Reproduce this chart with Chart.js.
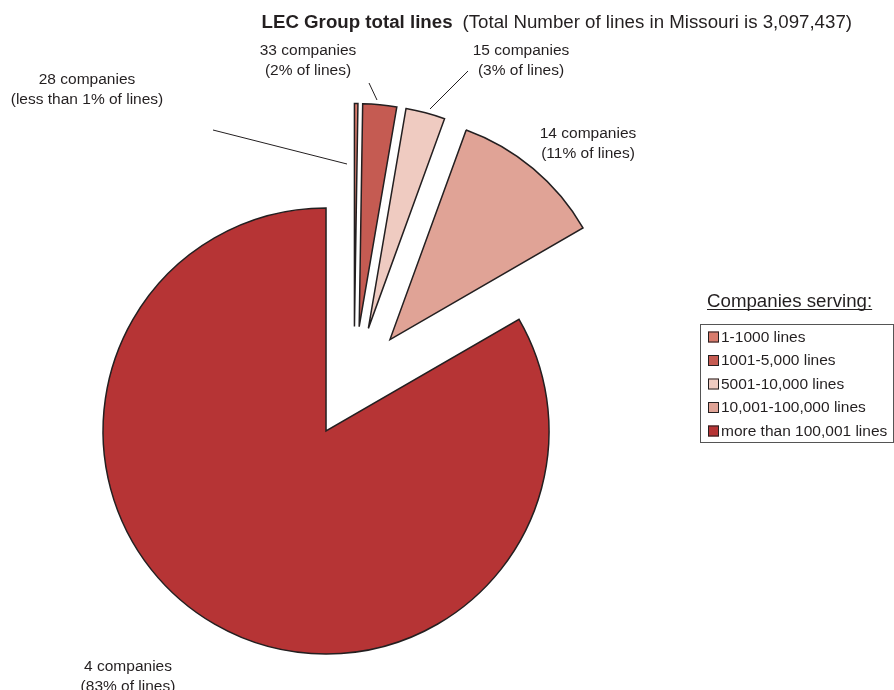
<!DOCTYPE html>
<html>
<head>
<meta charset="utf-8">
<title>LEC Group total lines</title>
<script src="https://cdn.jsdelivr.net/npm/chart.js@4/dist/chart.umd.min.js"></script>
<style>
  html, body { margin: 0; padding: 0; background: #fff; }
  #chart { display: block; }
</style>
</head>
<body>
<canvas id="chart" width="894" height="690"></canvas>
<script>
var groups = ['1-1000 lines', '1001-5,000 lines', '5001-10,000 lines', '10,001-100,000 lines', 'more than 100,001 lines'];
var companies = [28, 33, 15, 14, 4];
var shareOfLines = [0.25, 2.45, 2.85, 11.1, 83.35];
var sliceColors = ['#d97b6c', '#c55b52', '#efcbc1', '#e0a396', '#b63435'];
var totalLines = '3,097,437';

var INK = '#231f20';
var FONT = '"Liberation Sans", Arial, Helvetica, sans-serif';
var EXPLODE = 56;

// where each slice label sits (text centre) and its leader line, if any
var labelSpots = [
    {x: 87, y: 80, leader: [213, 130, 347, 164]},
    {x: 308, y: 51, leader: [369, 83, 377, 100]},
    {x: 521, y: 51, leader: [468, 71, 430, 109]},
    {x: 588, y: 134},
    {x: 128, y: 667}
];

function shareText(p) {
    return p < 1 ? 'less than 1%' : Math.round(p) + '%';
}

// pull every slice out along its own mid angle
var explodePlugin = {
    id: 'explode',
    beforeDatasetDraw: function (chart, args) {
        var ctx = chart.ctx;
        args.meta.data.forEach(function (arc) {
            var mid = (arc.startAngle + arc.endAngle) / 2;
            ctx.save();
            ctx.translate(Math.cos(mid) * EXPLODE, Math.sin(mid) * EXPLODE);
            arc.draw(ctx);
            ctx.restore();
        });
        return false;
    }
};

var textPlugin = {
    id: 'lecText',
    afterDraw: function (chart) {
        var ctx = chart.ctx;
        ctx.save();
        ctx.fillStyle = INK;
        ctx.strokeStyle = INK;

        // title: bold part then plain part
        ctx.textBaseline = 'alphabetic';
        ctx.textAlign = 'left';
        ctx.font = 'bold 18.7px ' + FONT;
        var bold = 'LEC Group total lines';
        ctx.fillText(bold, 261.5, 28.3);
        var w = ctx.measureText(bold).width;
        ctx.font = '18.7px ' + FONT;
        ctx.fillText('(Total Number of lines in Missouri is ' + totalLines + ')', 261.5 + w + 10, 28.3);

        // slice labels
        ctx.font = '15.5px ' + FONT;
        ctx.textAlign = 'center';
        ctx.textBaseline = 'middle';
        ctx.lineWidth = 1;
        labelSpots.forEach(function (s, i) {
            ctx.fillText(companies[i] + ' companies', s.x, s.y);
            ctx.fillText('(' + shareText(shareOfLines[i]) + ' of lines)', s.x, s.y + 19.5);
            if (s.leader) {
                ctx.beginPath();
                ctx.moveTo(s.leader[0], s.leader[1]);
                ctx.lineTo(s.leader[2], s.leader[3]);
                ctx.stroke();
            }
        });

        // legend
        ctx.textAlign = 'left';
        ctx.textBaseline = 'alphabetic';
        ctx.font = '18.7px ' + FONT;
        var head = 'Companies serving:';
        ctx.fillText(head, 707, 307);
        var hw = ctx.measureText(head).width;
        ctx.beginPath();
        ctx.moveTo(707, 309.5);
        ctx.lineTo(707 + hw, 309.5);
        ctx.stroke();

        ctx.strokeStyle = '#555';
        ctx.strokeRect(700.5, 324.5, 193, 118);

        ctx.font = '15.5px ' + FONT;
        ctx.textBaseline = 'middle';
        groups.forEach(function (g, i) {
            var y = 337 + i * 23.5;
            ctx.fillStyle = sliceColors[i];
            ctx.fillRect(708, y - 5.5, 11, 11);
            ctx.strokeStyle = INK;
            ctx.strokeRect(708.5, y - 5, 10, 10);
            ctx.fillStyle = INK;
            ctx.fillText(g, 721, y + 0.5);
        });
        ctx.restore();
    }
};

new Chart(document.getElementById('chart'), {
    type: 'pie',
    data: {
        labels: groups,
        datasets: [{
            data: shareOfLines,
            backgroundColor: sliceColors,
            borderColor: INK,
            borderWidth: 1.5,
            borderJoinStyle: 'miter',
            offset: 0,
            hoverOffset: 0
        }]
    },
    options: {
        responsive: false,
        animation: false,
        events: [],
        radius: 223,
        layout: {padding: {left: 0, right: 186, top: 75, bottom: 0}},
        plugins: {
            legend: {display: false},
            tooltip: {enabled: false}
        }
    },
    plugins: [explodePlugin, textPlugin]
});
</script>
</body>
</html>
